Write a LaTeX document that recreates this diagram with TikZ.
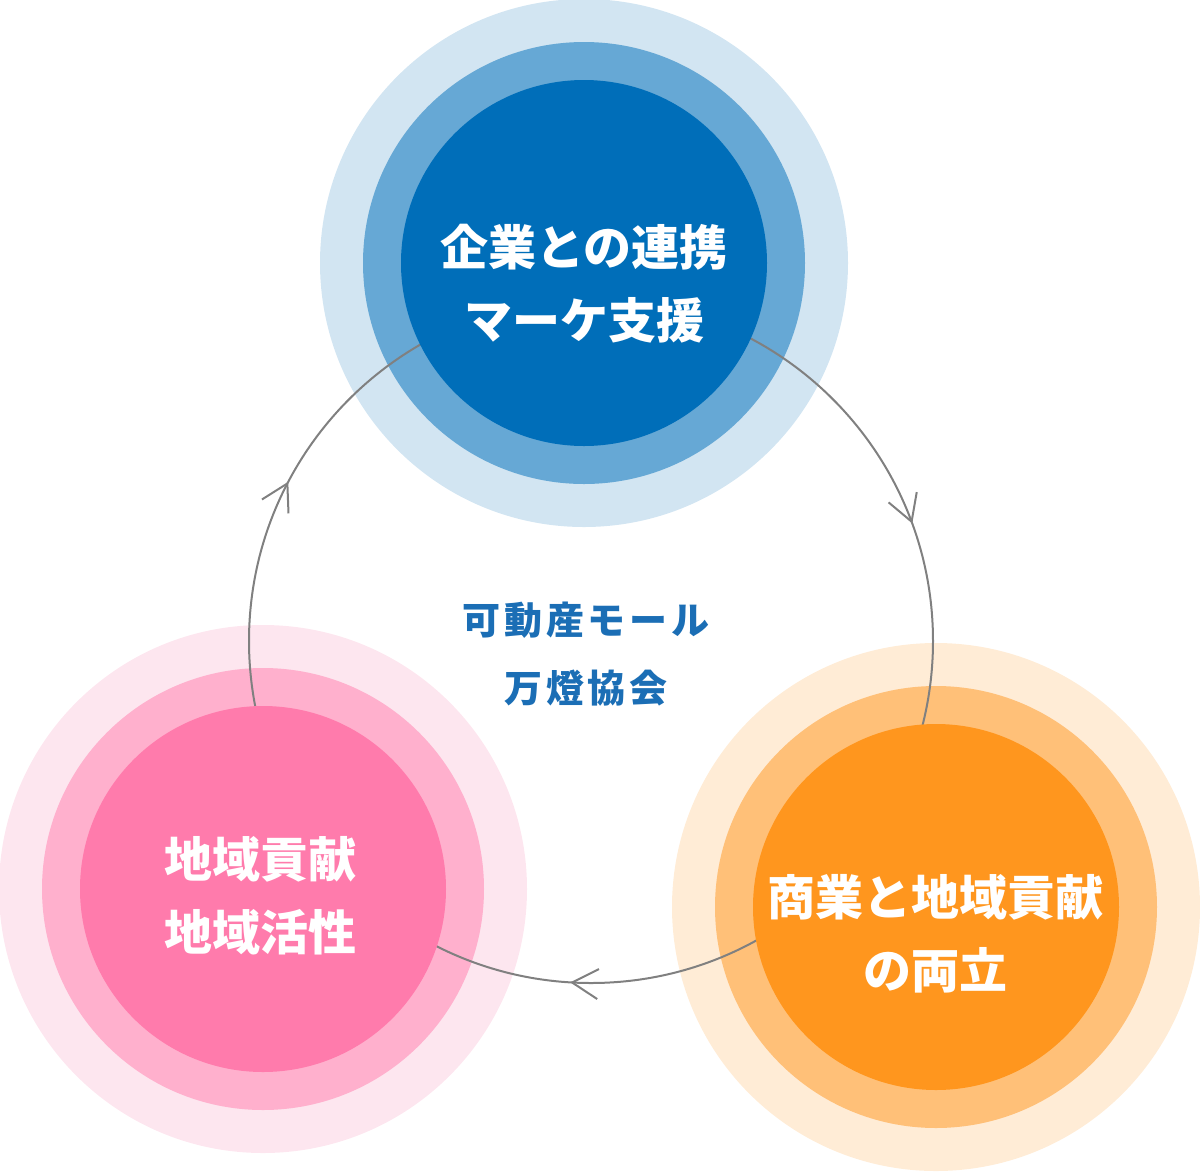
\documentclass[tikz,border=0pt]{standalone}
\usepackage{fontspec}
\newfontfamily\jpfont{Noto Sans CJK JP}
\usetikzlibrary{arrows.meta,decorations.markings}
\definecolor{blueA}{HTML}{006EB9}
\definecolor{blueB}{HTML}{66A8D5}
\definecolor{blueC}{HTML}{D2E5F2}
\definecolor{pinkA}{HTML}{FF7BAC}
\definecolor{pinkB}{HTML}{FFB0CD}
\definecolor{pinkC}{HTML}{FDE6EF}
\definecolor{orangeA}{HTML}{FF961E}
\definecolor{orangeB}{HTML}{FFC078}
\definecolor{orangeC}{HTML}{FFECD6}
\definecolor{hubblue}{HTML}{1B6EB5}
\definecolor{cyclegray}{HTML}{808080}
\tikzset{
	core/.style={circle, minimum size=366pt, inner sep=0pt},
	coretext/.style={align=center, text=white, inner sep=0pt,
		font=\jpfont\bfseries\fontsize{48}{73}\selectfont},
	hubtext/.style={align=center, text=hubblue,
		font=\jpfont\bfseries\fontsize{38}{68}\selectfont\addfontfeature{LetterSpace=10}},
	cycleline/.style={line width=2pt, color=cyclegray,
		decoration={markings,
			mark=at position 0.2597 with {\arrow{Straight Barb[length=26pt,width=30pt]}},
			mark=at position 0.5771 with {\arrow{Straight Barb[length=26pt,width=30pt]}},
			mark=at position 0.9442 with {\arrow{Straight Barb[length=26pt,width=30pt]}}},
		postaction={decorate}}
}

\begin{document}
\begin{tikzpicture}[x=1pt, y=-1pt]
			%%%%% START %%%%%
			\useasboundingbox (0, 0) rectangle (1200, 1171);
			
			\coordinate (kigyoC) at (584, 263);
			\coordinate (chiikiC) at (263, 889);
			\coordinate (shogyoC) at (936, 907);
			\coordinate (hub) at (591, 641);
			
			\fill[blueC] (kigyoC) circle (264);
			\fill[blueB] (kigyoC) circle (221);
			
			\fill[pinkC] (chiikiC) circle (264);
			\fill[pinkB] (chiikiC) circle (221);
			
			\fill[orangeC] (shogyoC) circle (264);
			\fill[orangeB] (shogyoC) circle (221);
			
			\draw[cycleline] (hub) circle (342);
			
			\node[core, fill=blueA] (kigyo) at (kigyoC) {};
			\node[core, fill=pinkA] (chiiki) at (chiikiC) {};
			\node[core, fill=orangeA] (shogyo) at (shogyoC) {};
			
			\node[coretext] (kigyoText) at (584, 284) {企業との連携\\マーケ支援};
			\node[coretext] (chiikiText) at (260, 896) {地域貢献\\地域活性};
			\node[coretext] (shogyoText) at (935, 934) {商業と地域貢献\\の両立};
			
			\node[hubtext] (kyokai) at (586, 654) {可動産モール\\万燈協会};
			
			%%%%% END %%%%%
\end{tikzpicture}
\end{document}
